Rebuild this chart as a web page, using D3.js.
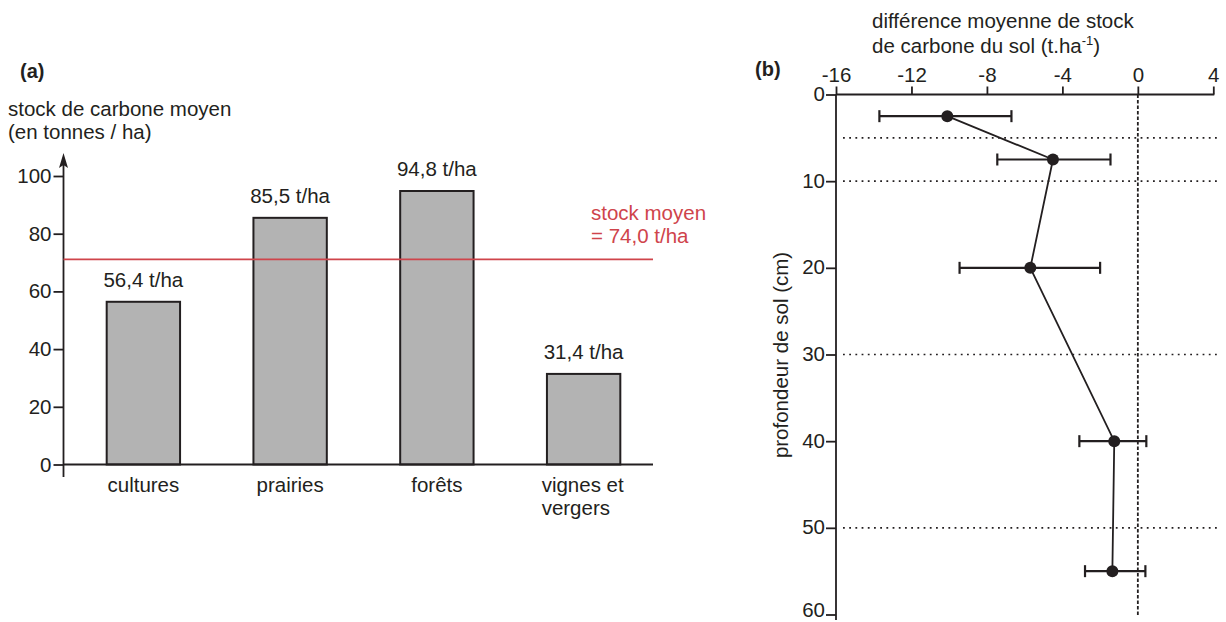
<!DOCTYPE html>
<html>
<head>
<meta charset="utf-8">
<script src="https://cdn.jsdelivr.net/npm/d3@7"></script>
<style>
  html, body { margin: 0; padding: 0; background: #fff; }
  svg { display: block; }
  text { font-family: "Liberation Sans", Arial, Helvetica, sans-serif; fill: #231f20; }
</style>
</head>
<body>
<svg id="chart" width="1226" height="622"></svg>
<script>
// ---------- Data (panel a) ----------
const categories = ["cultures", "prairies", "forêts", "vignes et\nvergers"];
const stockValues = [56.4, 85.5, 94.8, 31.4];
const stockLabels = ["56,4 t/ha", "85,5 t/ha", "94,8 t/ha", "31,4 t/ha"];
const stockTicks = [0, 20, 40, 60, 80, 100];
const meanLineLevel = 71.1;           // where the red line is drawn in the picture
const meanLabel = ["stock moyen", "= 74,0 t/ha"];

// ---------- Data (panel b) ----------
const depths = [2.5, 7.5, 20, 40, 55];
const diffMeans = [-10.1, -4.5, -5.7, -1.25, -1.35];
const diffLow = [-13.7, -7.45, -9.45, -3.1, -2.8];
const diffHigh = [-6.7, -1.45, -2.0, 0.45, 0.4];
const diffTicks = [-16, -12, -8, -4, 0, 4];
const depthTicks = [0, 10, 20, 30, 40, 50, 60];
const layerBounds = [5, 10, 30, 50];

const ink = "#231f20";
const red = "#cf444b";
const svg = d3.select("#chart");

// ================= Panel (a) =================
const ya = d3.scaleLinear().domain([0, 100]).range([464.5, 176]);
const xa = d3.scaleBand().domain(categories).range([70, 657]).paddingInner(0.5).paddingOuter(0.25);
const axX0 = 63.5;

svg.append("text").attr("x", 20).attr("y", 78).attr("font-size", 20).attr("font-weight", "bold").text("(a)");
svg.append("text").attr("x", 8).attr("y", 115.5).attr("font-size", 20.5).text("stock de carbone moyen");
svg.append("text").attr("x", 8).attr("y", 138.5).attr("font-size", 20.5).text("(en tonnes / ha)");

// bars
svg.append("g").selectAll("rect").data(stockValues).join("rect")
  .attr("x", (d, i) => xa(categories[i]))
  .attr("y", d => ya(d))
  .attr("width", xa.bandwidth())
  .attr("height", d => ya(0) - ya(d))
  .attr("fill", "#b3b3b3")
  .attr("stroke", ink)
  .attr("stroke-width", 2);

// value labels
svg.append("g").selectAll("text").data(stockValues).join("text")
  .attr("x", (d, i) => xa(categories[i]) + xa.bandwidth() / 2)
  .attr("y", d => ya(d) - 15)
  .attr("text-anchor", "middle")
  .attr("font-size", 20.5)
  .text((d, i) => stockLabels[i]);

// y axis
const yAxisA = d3.axisLeft(ya).tickValues(stockTicks).tickSize(10).tickPadding(2).tickSizeOuter(0).tickFormat(d => String(d));
const gya = svg.append("g").attr("transform", `translate(${axX0},0)`).call(yAxisA);
gya.select(".domain").remove();
gya.selectAll(".tick line").attr("stroke", ink).attr("stroke-width", 1.8);
gya.selectAll(".tick text").attr("font-size", 20.5).attr("fill", ink).style("font-family", '"Liberation Sans", Arial, sans-serif');

// y axis line with arrow
svg.append("line").attr("x1", axX0).attr("x2", axX0).attr("y1", 477).attr("y2", 162)
  .attr("stroke", ink).attr("stroke-width", 1.8);
svg.append("path")
  .attr("d", `M${axX0},${153} L${axX0 + 4.5},${168} L${axX0},${165} L${axX0 - 4.5},${168} Z`)
  .attr("fill", ink);

// x baseline
svg.append("line").attr("x1", axX0).attr("x2", 653).attr("y1", ya(0)).attr("y2", ya(0))
  .attr("stroke", ink).attr("stroke-width", 1.8);

// category labels
const catG = svg.append("g");
categories.forEach(c => {
  const lines = c.split("\n");
  const cx = xa(c) + xa.bandwidth() / 2;
  if (lines.length === 1) {
    catG.append("text").attr("x", cx).attr("y", 492).attr("text-anchor", "middle").attr("font-size", 20.5).text(c);
  } else {
    const t = catG.append("text").attr("font-size", 20.5).attr("text-anchor", "start").attr("x", cx - 42).attr("y", 492);
    t.append("tspan").attr("x", cx - 42).attr("y", 492).text(lines[0]);
    t.append("tspan").attr("x", cx - 42).attr("y", 515).text(lines[1]);
  }
});

// mean line
svg.append("line").attr("x1", axX0).attr("x2", 653).attr("y1", ya(meanLineLevel)).attr("y2", ya(meanLineLevel))
  .attr("stroke", red).attr("stroke-width", 1.8);
svg.append("text").attr("x", 591).attr("y", 220).attr("font-size", 20.5).style("fill", red).text(meanLabel[0]);
svg.append("text").attr("x", 591).attr("y", 243).attr("font-size", 20.5).style("fill", red).text(meanLabel[1]);

// ================= Panel (b) =================
const xb = d3.scaleLinear().domain([-16, 4]).range([836, 1213.3]);
const yb = d3.scaleLinear().domain([0, 60]).range([94.5, 614.5]);

svg.append("text").attr("x", 755).attr("y", 76).attr("font-size", 20).attr("font-weight", "bold").text("(b)");
svg.append("text").attr("x", 872).attr("y", 28).attr("font-size", 20.5).text("différence moyenne de stock");
const t2 = svg.append("text").attr("x", 872).attr("y", 53).attr("font-size", 20.5);
t2.append("tspan").text("de carbone du sol (t.ha");
t2.append("tspan").attr("font-size", 13).attr("dy", -8).text("-1");
t2.append("tspan").attr("dy", 8).text(")");

// dotted layer lines
svg.append("g").selectAll("line").data(layerBounds).join("line")
  .attr("x1", 843).attr("x2", 1217)
  .attr("y1", d => yb(d)).attr("y2", d => yb(d))
  .attr("stroke", ink).attr("stroke-width", 1.6).attr("stroke-dasharray", "1.8,4.4");

// vertical dashed zero line
svg.append("line").attr("x1", xb(0)).attr("x2", xb(0)).attr("y1", yb(0)).attr("y2", 617)
  .attr("stroke", ink).attr("stroke-width", 1.8).attr("stroke-dasharray", "3.5,2");

// axes
const xAxisB = d3.axisTop(xb).tickValues(diffTicks).tickSize(8).tickPadding(5).tickSizeOuter(0).tickFormat(d => String(d));
const gxb = svg.append("g").attr("transform", `translate(0,${yb(0)})`).call(xAxisB);
gxb.select(".domain").remove();
gxb.selectAll(".tick line").attr("stroke", ink).attr("stroke-width", 1.8);
gxb.selectAll(".tick text").attr("font-size", 20.5).attr("fill", ink).style("font-family", '"Liberation Sans", Arial, sans-serif');
svg.append("line").attr("x1", xb(-16)).attr("x2", xb(4) + 1).attr("y1", yb(0)).attr("y2", yb(0))
  .attr("stroke", ink).attr("stroke-width", 1.8);

const yAxisB = d3.axisLeft(yb).tickValues(depthTicks).tickSize(10).tickPadding(1).tickSizeOuter(0).tickFormat(d => String(d));
const gyb = svg.append("g").attr("transform", `translate(${xb(-16)},0)`).call(yAxisB);
gyb.select(".domain").remove();
gyb.selectAll(".tick line").attr("stroke", ink).attr("stroke-width", 1.8);
gyb.selectAll(".tick text").attr("font-size", 20.5).attr("fill", ink).attr("dy", "0.3em").style("font-family", '"Liberation Sans", Arial, sans-serif');
gyb.selectAll(".tick text").filter(d => d === 60).attr("dy", "0.1em");
svg.append("line").attr("x1", xb(-16)).attr("x2", xb(-16)).attr("y1", yb(0)).attr("y2", 620)
  .attr("stroke", ink).attr("stroke-width", 1.8);

svg.append("text")
  .attr("transform", `translate(788,355) rotate(-90)`)
  .attr("text-anchor", "middle").attr("font-size", 20.5)
  .text("profondeur de sol (cm)");

// connecting line
const pts = depths.map((d, i) => [xb(diffMeans[i]), yb(d)]);
svg.append("path").attr("d", d3.line()(pts)).attr("fill", "none").attr("stroke", ink).attr("stroke-width", 1.8);

// error bars
const eg = svg.append("g").attr("stroke", ink).attr("stroke-width", 2.2);
depths.forEach((d, i) => {
  const y = yb(d);
  eg.append("line").attr("x1", xb(diffLow[i])).attr("x2", xb(diffHigh[i])).attr("y1", y).attr("y2", y);
  eg.append("line").attr("x1", xb(diffLow[i])).attr("x2", xb(diffLow[i])).attr("y1", y - 6).attr("y2", y + 6);
  eg.append("line").attr("x1", xb(diffHigh[i])).attr("x2", xb(diffHigh[i])).attr("y1", y - 6).attr("y2", y + 6);
});

// points
svg.append("g").selectAll("circle").data(depths).join("circle")
  .attr("cx", (d, i) => xb(diffMeans[i]))
  .attr("cy", d => yb(d))
  .attr("r", 6)
  .attr("fill", ink);
</script>
</body>
</html>
